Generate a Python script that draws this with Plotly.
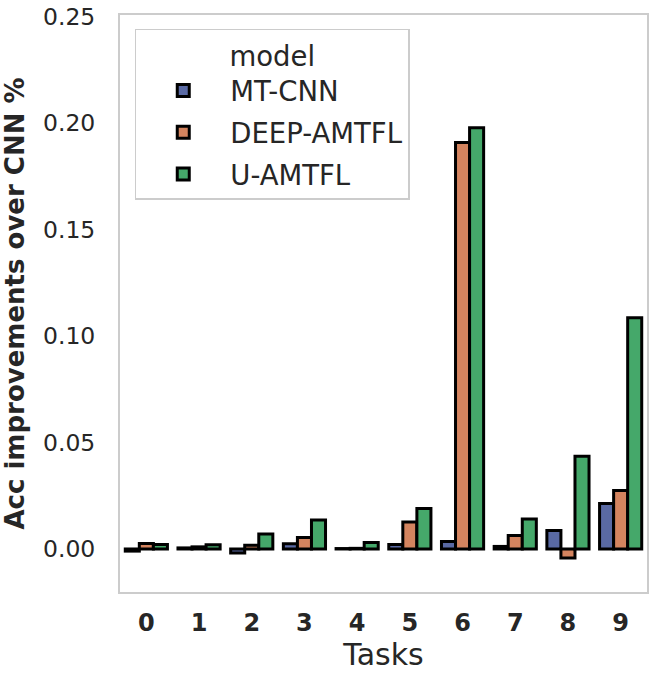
import plotly.graph_objects as go

tasks = ["0", "1", "2", "3", "4", "5", "6", "7", "8", "9"]
models = ["MT-CNN", "DEEP-AMTFL", "U-AMTFL"]
mt_cnn = [-0.0010, 0.0005, -0.0019, 0.0024, 0.0002, 0.0021, 0.0035, 0.0012, 0.0087, 0.0214]
deep_amtfl = [0.0026, 0.0010, 0.0017, 0.0054, 0.0003, 0.0127, 0.1908, 0.0063, -0.0042, 0.0275]
u_amtfl = [0.0021, 0.0020, 0.0070, 0.0136, 0.0030, 0.0190, 0.1978, 0.0141, 0.0435, 0.1086]
colors = ["#5a6aa4", "#d4845f", "#45a86a"]
y_ticks = [0.00, 0.05, 0.10, 0.15, 0.20, 0.25]

FONT = "DejaVu Sans"
fig = go.Figure()
for i, (name, vals) in enumerate(zip(models, [mt_cnn, deep_amtfl, u_amtfl])):
    fig.add_trace(go.Bar(
        x=tasks, y=vals, name=name, legendgroup=name,
        marker=dict(color=colors[i], line=dict(color="black", width=3)),
    ))

fig.update_layout(
    width=653, height=678,
    margin=dict(l=120, r=6, t=15, b=86, autoexpand=False),
    paper_bgcolor="white", plot_bgcolor="white",
    barmode="group", bargap=0.2, bargroupgap=0,
    font=dict(family=FONT, color="#262626"),
    legend=dict(
        x=0.028, y=0.976, xanchor="left", yanchor="top",
        bgcolor="white", bordercolor="#cccccc", borderwidth=1.5,
        font=dict(size=27.5, family=FONT, color="#262626"),
        title=dict(text="model", side="top center", font=dict(size=27.5, family=FONT, color="#262626")),
        itemwidth=84, tracegroupgap=3,
    ),
    showlegend=True,
)
fig.update_xaxes(
    type="category", range=[-0.5, 9.5], automargin=False,
    showline=True, mirror=True, linecolor="#cccccc", linewidth=2,
    showgrid=False, zeroline=False, ticks="",
    tickfont=dict(size=24, family=FONT, weight="bold", color="#262626"),
    ticklabelstandoff=8,
    title=dict(text="Tasks", font=dict(size=30, family=FONT, color="#262626"), standoff=6),
)
fig.update_yaxes(
    range=[-0.0202, 0.2507], automargin=False,
    tickvals=y_ticks, ticktext=[f"{v:.2f}" for v in y_ticks],
    ticklabeloverflow="allow",
    showline=True, mirror=True, linecolor="#cccccc", linewidth=2,
    showgrid=False, zeroline=False, ticks="",
    tickfont=dict(size=23.5, family=FONT, color="#262626"),
    ticklabelstandoff=18,
    title=dict(text="Acc improvements over CNN %", font=dict(size=26, family=FONT, weight="bold", color="#262626"), standoff=19),
)
fig.write_html("out.html", config={"displayModeBar": False},
               post_script="document.body.style.margin='0';")
